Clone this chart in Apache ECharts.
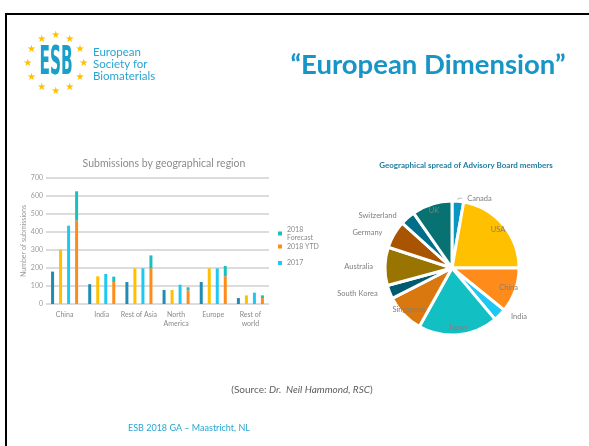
<!DOCTYPE html>
<html><head><meta charset="utf-8">
<script src="https://cdn.jsdelivr.net/npm/echarts@6/dist/echarts.min.js"></script>
<style>html,body{margin:0;padding:0;background:#fff}#c{width:589px;height:446px}</style>
</head><body><div id="c"></div><script>
// ---- data ----
const regions = ['China', 'India', 'Rest of Asia', 'North\nAmerica', 'Europe', 'Rest of\nworld'];
const yMax = 700;
const yStep = 100;
const sub2015 = [180, 110, 122, 78, 122, 33];
const sub2016 = [302, 154, 198, 78, 198, 48];
const sub2017 = [435, 167, 198, 107, 198, 63];
const sub2018YTD = [463, 122, 198, 76, 154, 33];
const sub2018ForecastExtra = [163, 30, 72, 17, 57, 15];

const boardCountries = ['Canada', 'USA', 'China', 'India', 'Japan', 'Singapore', 'South Korea', 'Australia', 'Germany', 'Switzerland', 'UK'];
const boardShare = [2.8, 22.2, 10.8, 3.1, 19.2, 9.4, 3.3, 9.2, 6.7, 3.6, 9.7];
const boardColors = ['#0a96c4', '#ffc000', '#ff8c1a', '#1fc8f0', '#12c0c4', '#d9780e', '#005a70', '#9a7400', '#a85400', '#006e88', '#087272'];
const insideLabelled = ['USA', 'China', 'Japan', 'Singapore', 'UK'];

// ---- chart ----
const chart = echarts.init(document.getElementById('c'), null, {renderer: 'canvas'});
const F = 'Lato, "Open Sans", sans-serif';
const gray = '#8a8a8a';

const stars = [];
for (let i = 0; i < 12; i++) {
  const a = i * Math.PI / 6;
  stars.push({
    type: 'text', x: 55.7 + 28 * Math.sin(a), y: 63.3 - 28 * Math.cos(a),
    style: {text: '★', fontSize: 10, fill: '#ffc000', align: 'center', verticalAlign: 'middle', fontFamily: 'DejaVu Sans'}
  });
}

const mainPieData = boardCountries.map((n, i) => {
  const inside = insideLabelled.includes(n);
  return {
    name: n, value: boardShare[i],
    itemStyle: {color: boardColors[i]},
    label: {show: !inside},
    labelLine: {show: n === 'Canada'}
  };
});
const ringPieData = boardCountries.map((n, i) => ({
  name: n, value: boardShare[i],
  itemStyle: {color: 'rgba(0,0,0,0)', borderWidth: 0},
  label: {show: insideLabelled.includes(n)}
}));

const option = {
  animation: false,
  backgroundColor: '#fff',
  textStyle: {fontFamily: F},
  title: [
    {text: 'Submissions by geographical region', left: 159, top: 153, textAlign: 'center',
     textStyle: {fontSize: 10.5, fontWeight: 'normal', color: '#8c8c8c', fontFamily: F}},
    {text: 'Geographical spread of Advisory Board members', left: 461, top: 156, textAlign: 'center',
     textStyle: {fontSize: 8, fontWeight: 'bold', color: '#217fa3', fontFamily: F}}
  ],
  legend: [
    {data: ['2018 Forecast', '2018 YTD'], orient: 'vertical', left: 273, top: 220.5,
     itemWidth: 4, itemHeight: 4, itemGap: 1, icon: 'rect', selectedMode: false,
     formatter: n => n === '2018 Forecast' ? '2018\nForecast' : n,
     textStyle: {fontSize: 7, color: gray, lineHeight: 8, fontFamily: F}},
    {data: ['2017'], orient: 'vertical', left: 273, top: 254,
     itemWidth: 4, itemHeight: 4, icon: 'rect', selectedMode: false,
     textStyle: {fontSize: 7, color: gray, lineHeight: 8, fontFamily: F}}
  ],
  grid: {left: 46, top: 178, width: 223, height: 126},
  xAxis: {
    type: 'category', data: regions,
    axisLine: {show: false}, axisTick: {show: false},
    axisLabel: {fontSize: 7, color: gray, lineHeight: 9, margin: 6, interval: 0, fontFamily: F}
  },
  yAxis: {
    type: 'value', min: 0, max: yMax, interval: yStep,
    name: 'Number of submissions', nameLocation: 'middle', nameGap: 19,
    nameTextStyle: {fontSize: 7, color: '#9a9a9a', fontFamily: F},
    axisLine: {show: false}, axisTick: {show: false},
    axisLabel: {fontSize: 7, color: '#9a9a9a', margin: 3, fontFamily: F},
    splitLine: {lineStyle: {color: '#dcdcdc', width: 2}}
  },
  series: [
    {name: '2015', type: 'bar', data: sub2015, barWidth: 3, barGap: '167%', itemStyle: {color: '#1e8cb4'}},
    {name: '2016', type: 'bar', data: sub2016, barWidth: 3, barGap: '167%', itemStyle: {color: '#ffc000'}},
    {name: '2017', type: 'bar', data: sub2017, barWidth: 3, barGap: '167%', itemStyle: {color: '#1fc8f0'}},
    {name: '2018 YTD', type: 'bar', stack: 'f', data: sub2018YTD, barWidth: 3, barGap: '167%', itemStyle: {color: '#ff8c1a'}},
    {name: '2018 Forecast', type: 'bar', stack: 'f', data: sub2018ForecastExtra, barWidth: 3, barGap: '167%', itemStyle: {color: '#1cbfc0'}},
    {
      type: 'pie', center: [452, 268], radius: 67, startAngle: 90, clockwise: true,
      avoidLabelOverlap: false, data: mainPieData,
      itemStyle: {borderColor: '#fff', borderWidth: 3},
      label: {position: 'outside', fontSize: 7.5, color: '#7f7f7f', fontFamily: F},
      labelLine: {length: 3, length2: 4, lineStyle: {color: '#bdbdbd', width: 1}}
    },
    {
      type: 'pie', center: [452, 268], radius: [47, 67], startAngle: 90, clockwise: true,
      silent: true, avoidLabelOverlap: false, data: ringPieData, z: 5,
      label: {position: 'inside', fontSize: 7.5, color: '#7f7f7f', fontFamily: F},
      labelLine: {show: false}
    }
  ],
  graphic: [
    {type: 'rect', shape: {x: 6, y: 14, width: 700, height: 500}, style: {fill: 'none', stroke: '#000', lineWidth: 2}},
    ...stars,
    {type: 'text', x: 56, y: 64, scaleY: 2.3,
     style: {text: 'ESB', fontSize: 17, fontWeight: 'bold', fill: '#1aa0c8', align: 'center', verticalAlign: 'middle', fontFamily: '"DejaVu Sans Condensed", sans-serif'}},
    {type: 'text', x: 93, y: 46,
     style: {text: 'European\nSociety for\nBiomaterials', fontSize: 11.5, lineHeight: 12.3, fill: '#2aa5d2', fontFamily: F}},
    {type: 'text', x: 428, y: 65,
     style: {text: '“European Dimension”', fontSize: 27.5, fontWeight: 'bold', fill: '#1795c6', align: 'center', verticalAlign: 'middle', fontFamily: F}},
    {type: 'text', x: 302, y: 390,
     style: {text: '(Source: {i|Dr.  Neil Hammond, RSC})', fontSize: 10, fill: '#5f5f5f', align: 'center', verticalAlign: 'middle', fontFamily: F,
       rich: {i: {fontStyle: 'italic', fontSize: 10, fill: '#5f5f5f', fontFamily: F}}}},
    {type: 'text', x: 128, y: 428,
     style: {text: 'ESB 2018 GA – Maastricht, NL', fontSize: 9, fill: '#2aa5d2', verticalAlign: 'middle', fontFamily: F}}
  ]
};
chart.setOption(option);
</script></body></html>
